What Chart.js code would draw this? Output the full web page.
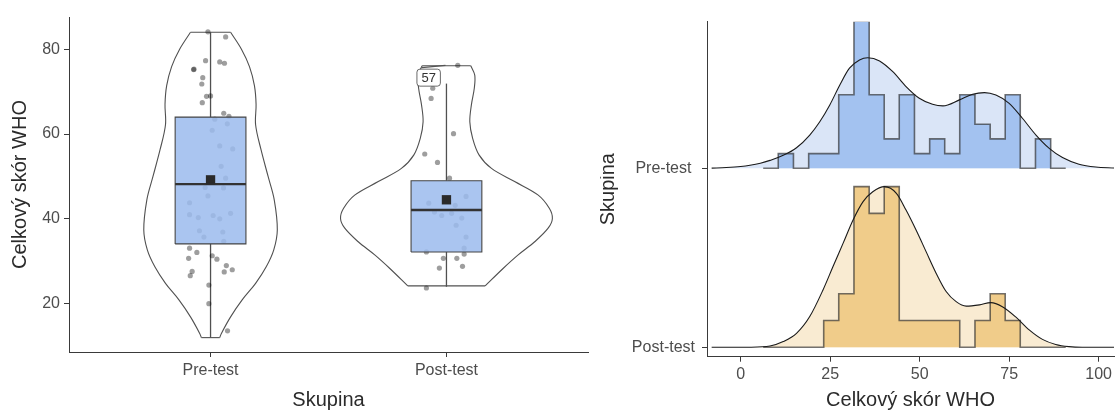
<!DOCTYPE html>
<html lang="sk">
<head>
<meta charset="UTF-8">
<title>Celkový skór WHO</title>
<script src="https://cdn.jsdelivr.net/npm/chart.js"></script>
<style>
  html, body { margin: 0; padding: 0; background: #fff; }
  .wrap { position: relative; width: 1115px; height: 412px; }
  #violinChart { position: absolute; left: 0; top: 0; }
  #ridgeChart { position: absolute; left: 600px; top: 0; }
</style>
</head>
<body>
<div class="wrap">
  <canvas id="violinChart" width="600" height="412"></canvas>
  <canvas id="ridgeChart" width="515" height="412"></canvas>
</div>
<script>
const groups = ['Pre-test', 'Post-test'];
const scoreTicks = [20, 40, 60, 80];
const whoTicks = [0, 25, 50, 75, 100];

// jittered raw scores, horizontal jitter in category units
const preScores = [84.1, 82.9, 77.3, 77.0, 76.7, 75.2, 75.3, 73.3, 71.8, 68.9, 69.0, 67.4, 64.9, 64.2, 63.5, 62.4,
  60.9, 57.2, 56.5, 52.4, 49.6, 47.4, 47.3, 45.4, 43.8, 41.0, 40.3, 40.8, 40.0, 41.3, 37.2, 35.7, 36.9, 34.7,
  33.1, 32.1, 30.7, 31.3, 30.5, 29.0, 28.0, 27.5, 27.6, 26.6, 24.4, 20.0, 13.6];
const preJitter = [-0.011, 0.064, -0.021, 0.039, 0.059, -0.072, -0.070, -0.033, -0.037, -0.017, 0.0, -0.035, 0.056, 0.078, 0.018, 0.071,
  0.007, 0.039, 0.094, 0.045, 0.064, -0.023, 0.055, -0.011, -0.089, -0.089, -0.052, 0.011, 0.039, 0.085, -0.047, -0.028, 0.052, 0.056,
  -0.089, -0.058, -0.093, 0.007, 0.027, 0.067, 0.092, 0.058, -0.078, -0.086, -0.007, -0.007, 0.072];
const postScores = [76.2, 70.8, 68.4, 60.1, 55.3, 53.3, 49.6, 45.3, 43.7, 43.2, 41.6, 41.3, 40.8, 40.2, 38.5, 35.7,
  33.1, 31.7, 32.2, 30.7, 30.7, 28.4, 28.8, 23.7];
const postJitter = [0.048, -0.058, -0.065, 0.030, -0.092, -0.038, 0.013, 0.083, -0.075, 0.037, -0.051, 0.022, -0.020, 0.065, 0.041, 0.083,
  0.075, 0.075, -0.085, -0.013, 0.044, -0.030, 0.068, -0.085];

// box: lower whisker, Q1, median, Q3, upper whisker
const preBox = [12.0, 34.1, 48.2, 64.0, 84.0];
const postBox = [24.0, 32.2, 42.1, 49.0, 71.9];
const preMean = 49.2;
const postMean = 44.5;
const postOutlierScore = 76.2;
const postOutlierLabel = '57';

// violin outline: score and half width (category units)
const preViolinScore = [12.0, 13.0, 16.9, 20.9, 24.8, 28.7, 32.7, 37.4, 44.5, 50.0, 56.3, 62.2, 67.0, 71.4, 75.9, 80.0, 84.0];
const preViolinHalf = [0.039, 0.046, 0.085, 0.134, 0.191, 0.236, 0.268, 0.283, 0.270, 0.244, 0.214, 0.191, 0.193, 0.186, 0.165, 0.131, 0.085];
const postViolinScore = [24.2, 28.3, 31.5, 34.6, 37.8, 40.1, 42.5, 45.6, 48.8, 51.9, 55.1, 59.0, 62.9, 67.0, 70.8, 73.9, 76.1];
const postViolinHalf = [0.164, 0.240, 0.304, 0.374, 0.431, 0.449, 0.436, 0.389, 0.289, 0.191, 0.138, 0.111, 0.099, 0.106, 0.118, 0.120, 0.103];

// ridgeline histogram (shared bins)
const binEdges = [6.3, 10.5, 14.75, 19.0, 23.2, 27.4, 31.65, 35.9, 40.1, 44.3, 48.55, 52.8, 57.0, 61.2, 65.45, 69.7, 73.9, 78.1, 82.35, 86.6, 90.8];
const preCounts = [0, 1, 0, 1, 1, 5, 10, 5, 2, 5, 1, 2, 1, 5, 3, 2, 5, 0, 2, 0];
const postCounts = [0, 0, 0, 0, 1, 2, 6, 5, 6, 1, 1, 1, 1, 0, 1, 2, 1, 0, 0, 0];

// ridgeline density
const preDensX = [-8.1, -4, 0, 2.6, 5.5, 8.2, 11.9, 15.6, 19.3, 22.1, 24.9, 27.7, 30.4, 33.2, 35.5, 38.8, 42.5, 46.2, 49.9,
  53.6, 56.5, 61.1, 64.8, 68.1, 71.3, 75.0, 78.7, 82.5, 86.2, 89.9, 94.5, 99.2, 104.3];
const preDens = [0.00006, 0.00025, 0.00057, 0.00095, 0.0016, 0.0025, 0.0041, 0.0065, 0.0105, 0.0147, 0.0200, 0.0263, 0.0316, 0.0342, 0.0349, 0.0339, 0.0305, 0.0258, 0.0221,
  0.0202, 0.0197, 0.0216, 0.0234, 0.0239, 0.0231, 0.0205, 0.0158, 0.0105, 0.0063, 0.0034, 0.0013, 0.0004, 0.0001];
const postDensX = [-8.1, 2.6, 8.2, 11.9, 15.6, 19.3, 23.0, 25.8, 28.6, 31.4, 34.2, 36.9, 40.2, 43.5, 46.2, 49.0, 51.8, 54.6,
  57.4, 60.2, 63.0, 66.7, 69.9, 73.1, 76.9, 80.6, 84.3, 88.0, 91.7, 95.4, 104.3];
const postDens = [0, 0.00003, 0.0004, 0.0018, 0.0044, 0.0097, 0.0181, 0.0255, 0.0328, 0.0402, 0.0460, 0.0491, 0.0507, 0.0486, 0.0433, 0.0370, 0.0302, 0.0234,
  0.0176, 0.0144, 0.0130, 0.0134, 0.0141, 0.0128, 0.0095, 0.0055, 0.0025, 0.0009, 0.0002, 0, 0];

const FONT = "'Liberation Sans', Arial, sans-serif";
const TICK_COL = '#4d4d4d';
const TITLE_COL = '#2b2b2b';
const AXIS_COL = '#3a3a3a';
const BOX_HALF = 0.15;
const RIDGE_SCALE = 17.7;

Chart.defaults.font.family = FONT;
Chart.defaults.animation = false;

function line(data, extra) {
  return Object.assign({ data, showLine: true, pointRadius: 0, borderWidth: 1, fill: false, tension: 0 }, extra);
}

// ---------- left: violin + box + points ----------
const violinDatasets = [];
const groupData = [
  { scores: preScores, jitter: preJitter, box: preBox, mean: preMean, vy: preViolinScore, vh: preViolinHalf },
  { scores: postScores, jitter: postJitter, box: postBox, mean: postMean, vy: postViolinScore, vh: postViolinHalf }
];
groupData.forEach((g, i) => {
  const c = i + 1;
  const n = g.vy.length - 1;
  const vStyle = { borderColor: '#505050', borderWidth: 1.1, tension: 0.35, order: 7 };
  violinDatasets.push(line(g.vy.map((y, k) => ({ x: c - g.vh[k], y })), vStyle));
  violinDatasets.push(line(g.vy.map((y, k) => ({ x: c + g.vh[k], y })), vStyle));
  violinDatasets.push(line([{ x: c - g.vh[n], y: g.vy[n] }, { x: c + g.vh[n], y: g.vy[n] }], vStyle));
  violinDatasets.push(line([{ x: c - g.vh[0], y: g.vy[0] }, { x: c + g.vh[0], y: g.vy[0] }], vStyle));
  // whiskers
  const wStyle = { borderColor: '#505050', borderWidth: 1.3, order: 6 };
  violinDatasets.push(line([{ x: c, y: g.box[0] }, { x: c, y: g.box[1] }], wStyle));
  violinDatasets.push(line([{ x: c, y: g.box[3] }, { x: c, y: g.box[4] }], wStyle));
  // points
  violinDatasets.push({
    data: g.scores.map((s, k) => ({ x: c + g.jitter[k], y: s })),
    showLine: false, pointRadius: 2.6, pointBorderWidth: 0,
    pointBackgroundColor: 'rgba(0,0,0,0.38)', order: 5
  });
  // box fill and outline
  violinDatasets.push(line([{ x: c - BOX_HALF, y: g.box[3] }, { x: c + BOX_HALF, y: g.box[3] }],
    { borderWidth: 0, fill: { value: g.box[1] }, backgroundColor: 'rgba(156,188,237,0.86)', order: 4 }));
  violinDatasets.push(line([
    { x: c - BOX_HALF, y: g.box[1] }, { x: c + BOX_HALF, y: g.box[1] }, { x: c + BOX_HALF, y: g.box[3] },
    { x: c - BOX_HALF, y: g.box[3] }, { x: c - BOX_HALF, y: g.box[1] }
  ], { borderColor: '#444', borderWidth: 1.1, order: 3 }));
  // median
  violinDatasets.push(line([{ x: c - BOX_HALF, y: g.box[2] }, { x: c + BOX_HALF, y: g.box[2] }],
    { borderColor: '#333', borderWidth: 2.4, order: 2 }));
  // mean
  violinDatasets.push({
    data: [{ x: c, y: g.mean }], showLine: false, pointStyle: 'rect', pointRadius: 6.6,
    pointBorderWidth: 0, pointBackgroundColor: '#2a2a2a', order: 1
  });
});

const outlierLabelPlugin = {
  id: 'outlierLabel',
  afterDatasetsDraw(chart) {
    const { ctx, scales: { x, y } } = chart;
    const px = x.getPixelForValue(2);
    const py = y.getPixelForValue(postOutlierScore);
    const lx = px - 17.8, ly = py + 12.3;
    ctx.save();
    ctx.font = '13px ' + FONT;
    const w = ctx.measureText(postOutlierLabel).width + 9, h = 17;
    ctx.strokeStyle = '#555';
    ctx.lineWidth = 1.2;
    ctx.beginPath();
    ctx.moveTo(lx - w / 2 + 5, ly - h / 2 - 1.5);
    ctx.lineTo(px - 1, py);
    ctx.stroke();
    ctx.beginPath();
    ctx.roundRect(lx - w / 2, ly - h / 2, w, h, 3);
    ctx.fillStyle = '#fff';
    ctx.fill();
    ctx.lineWidth = 0.8;
    ctx.strokeStyle = '#444';
    ctx.stroke();
    ctx.fillStyle = '#333';
    ctx.textAlign = 'center';
    ctx.textBaseline = 'middle';
    ctx.fillText(postOutlierLabel, lx, ly + 0.5);
    ctx.restore();
  }
};

new Chart(document.getElementById('violinChart'), {
  type: 'line',
  data: { datasets: violinDatasets },
  plugins: [outlierLabelPlugin],
  options: {
    responsive: false,
    events: [],
    layout: { padding: { top: 17, right: 12, left: 0, bottom: 0 } },
    plugins: { legend: { display: false }, tooltip: { enabled: false } },
    scales: {
      x: {
        type: 'linear', min: 0.4, max: 2.6,
        afterBuildTicks: s => { s.ticks = groups.map((g, i) => ({ value: i + 1 })); },
        afterFit: s => { s.height = 60; },
        ticks: { callback: v => groups[v - 1], color: TICK_COL, font: { size: 16 }, padding: 4, maxRotation: 0, autoSkip: false },
        grid: { drawOnChartArea: false, drawTicks: true, tickLength: 5, color: AXIS_COL },
        border: { display: true, color: AXIS_COL, width: 1 },
        title: { display: true, text: 'Skupina', color: TITLE_COL, font: { size: 20 }, padding: { top: 0, bottom: 0 } }
      },
      y: {
        type: 'linear', min: 8.61, max: 87.6,
        afterBuildTicks: s => { s.ticks = scoreTicks.map(v => ({ value: v })); },
        afterFit: s => { s.width = 69; },
        ticks: { color: TICK_COL, font: { size: 16 }, padding: 4 },
        grid: { drawOnChartArea: false, drawTicks: true, tickLength: 5, color: AXIS_COL },
        border: { display: true, color: AXIS_COL, width: 1 },
        title: { display: true, text: 'Celkový skór WHO', color: TITLE_COL, font: { size: 20 }, padding: { top: 8, bottom: 0 } }
      }
    }
  }
});

// ---------- right: ridgeline histogram + density ----------
const ridgeDatasets = [];
const binW = (binEdges[binEdges.length - 1] - binEdges[0]) / preCounts.length;
const ridgeData = [
  { counts: preCounts, dx: preDensX, d: preDens, hist: 'rgb(163,194,240)', dens: 'rgb(218,229,247)' },
  { counts: postCounts, dx: postDensX, d: postDens, hist: 'rgb(240,204,138)', dens: 'rgb(249,235,210)' }
];
ridgeData.forEach((g, i) => {
  const base = groups.length - i;
  const n = g.counts.reduce((a, b) => a + b, 0);
  const h = g.counts.map(c => base + c / (n * binW) * RIDGE_SCALE);
  const histPts = g.counts.map((c, k) => ({ x: binEdges[k], y: h[k] }));
  histPts.push({ x: binEdges[binEdges.length - 1], y: h[h.length - 1] });
  const densPts = g.dx.map((x, k) => ({ x, y: base + g.d[k] * RIDGE_SCALE }));
  ridgeDatasets.push(line(densPts, { borderWidth: 0, fill: { value: base }, backgroundColor: g.dens, cubicInterpolationMode: 'monotone', order: 5 }));
  ridgeDatasets.push(line(histPts, { stepped: 'before', fill: { value: base }, backgroundColor: g.hist, borderColor: 'rgba(40,40,40,0.65)', borderWidth: 1.6, order: 4 }));
  ridgeDatasets.push(line(densPts, { borderColor: '#1a1a1a', borderWidth: 1.1, cubicInterpolationMode: 'monotone', order: 3 }));
});

new Chart(document.getElementById('ridgeChart'), {
  type: 'line',
  data: { datasets: ridgeDatasets },
  options: {
    responsive: false,
    events: [],
    layout: { padding: { top: 21.7, right: 0, left: 0, bottom: 0 } },
    plugins: { legend: { display: false }, tooltip: { enabled: false } },
    scales: {
      x: {
        type: 'linear', min: -9.4, max: 104.3,
        afterBuildTicks: s => { s.ticks = whoTicks.map(v => ({ value: v })); },
        afterFit: s => { s.height = 55.3; },
        ticks: { color: TICK_COL, font: { size: 16 }, padding: 3, maxRotation: 0, autoSkip: false },
        grid: { drawOnChartArea: false, drawTicks: true, tickLength: 5, color: AXIS_COL },
        border: { display: true, color: AXIS_COL, width: 1 },
        title: { display: true, text: 'Celkový skór WHO', color: TITLE_COL, font: { size: 20 }, padding: { top: 0, bottom: 0 } }
      },
      y: {
        type: 'linear', min: 0.9475, max: 2.819,
        afterBuildTicks: s => { s.ticks = groups.map((g, i) => ({ value: groups.length - i })); },
        afterFit: s => { s.width = 107; },
        ticks: { callback: v => groups[groups.length - v], color: TICK_COL, font: { size: 16 }, padding: 7, crossAlign: 'center' },
        grid: { drawOnChartArea: false, drawTicks: true, tickLength: 5, color: AXIS_COL },
        border: { display: true, color: AXIS_COL, width: 1 },
        title: { display: true, text: 'Skupina', color: TITLE_COL, font: { size: 20 }, padding: { top: -4, bottom: 0 } }
      }
    }
  }
});
</script>
</body>
</html>
